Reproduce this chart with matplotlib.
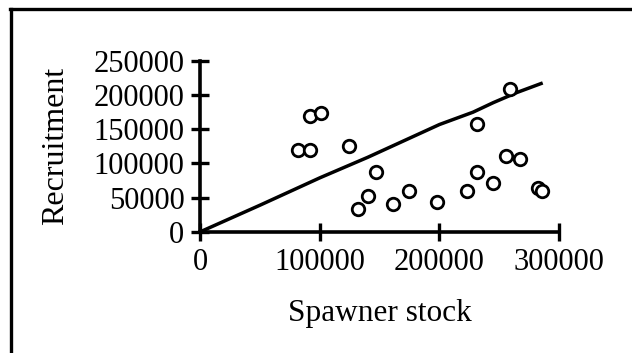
import numpy as np
import matplotlib.pyplot as plt
from matplotlib.lines import Line2D

# Spawner stock and recruitment observations
estoque = np.array([81800, 91600, 91600, 100500, 124500, 146900, 140400, 131500,
                    160800, 174200, 198100, 222700, 231600, 231400, 245000,
                    255600, 267400, 259000, 282700, 285500])
recrutamento = np.array([119800, 119800, 169600, 174500, 125600, 87000, 52300, 33300,
                         40600, 60100, 44000, 59700, 87500, 158300, 71800,
                         111000, 106600, 209200, 63600, 59700])

# Fitted stock-recruitment curve
curva_x = np.array([0, 50000, 100000, 140000, 165000, 200000, 228000, 245000, 265000, 285000])
curva_y = np.array([0, 39000, 79000, 109000, 129000, 157000, 175000, 189000, 204000, 217000])

xticks = [0, 100000, 200000, 300000]
yticks = [0, 50000, 100000, 150000, 200000, 250000]

plt.rcParams['font.family'] = ['Liberation Serif', 'DejaVu Serif']

fig = plt.figure(figsize=(6.32, 3.53), dpi=100)
ax = fig.add_axes([0.3172, 0.3436, 0.5673, 0.4836])

ax.plot(curva_x, curva_y, color='black', lw=2.5, zorder=2)
ax.plot(estoque, recrutamento, 'o', ms=9, mfc='white', mec='black', mew=2,
        zorder=3, clip_on=False)

ax.set_xlim(0, 300000)
ax.set_ylim(0, 250000)
ax.set_xticks(xticks)
ax.set_yticks(yticks)
ax.set_xticklabels([str(v) for v in xticks])
ax.set_yticklabels([str(v) for v in yticks])
ax.tick_params(direction='inout', length=13, width=2.4, labelsize=22, pad=5,
               color='black')
ax.tick_params(axis='x', pad=5)

for lado in ['top', 'right']:
    ax.spines[lado].set_visible(False)
for lado in ['left', 'bottom']:
    ax.spines[lado].set_linewidth(2.6)

ax.set_xlabel('Spawner stock', fontsize=22.5, labelpad=16)
ax.set_ylabel('Recruitment', fontsize=23, labelpad=17)

# Frame around the figure (left and top edges)
fig.add_artist(Line2D([11 / 632, 11 / 632], [0, 1 - 8.5 / 353],
                      transform=fig.transFigure, color='black', lw=2.4))
fig.add_artist(Line2D([10 / 632, 1], [1 - 8.5 / 353, 1 - 8.5 / 353],
                      transform=fig.transFigure, color='black', lw=2.4))

fig.savefig('out.png', dpi=100)
